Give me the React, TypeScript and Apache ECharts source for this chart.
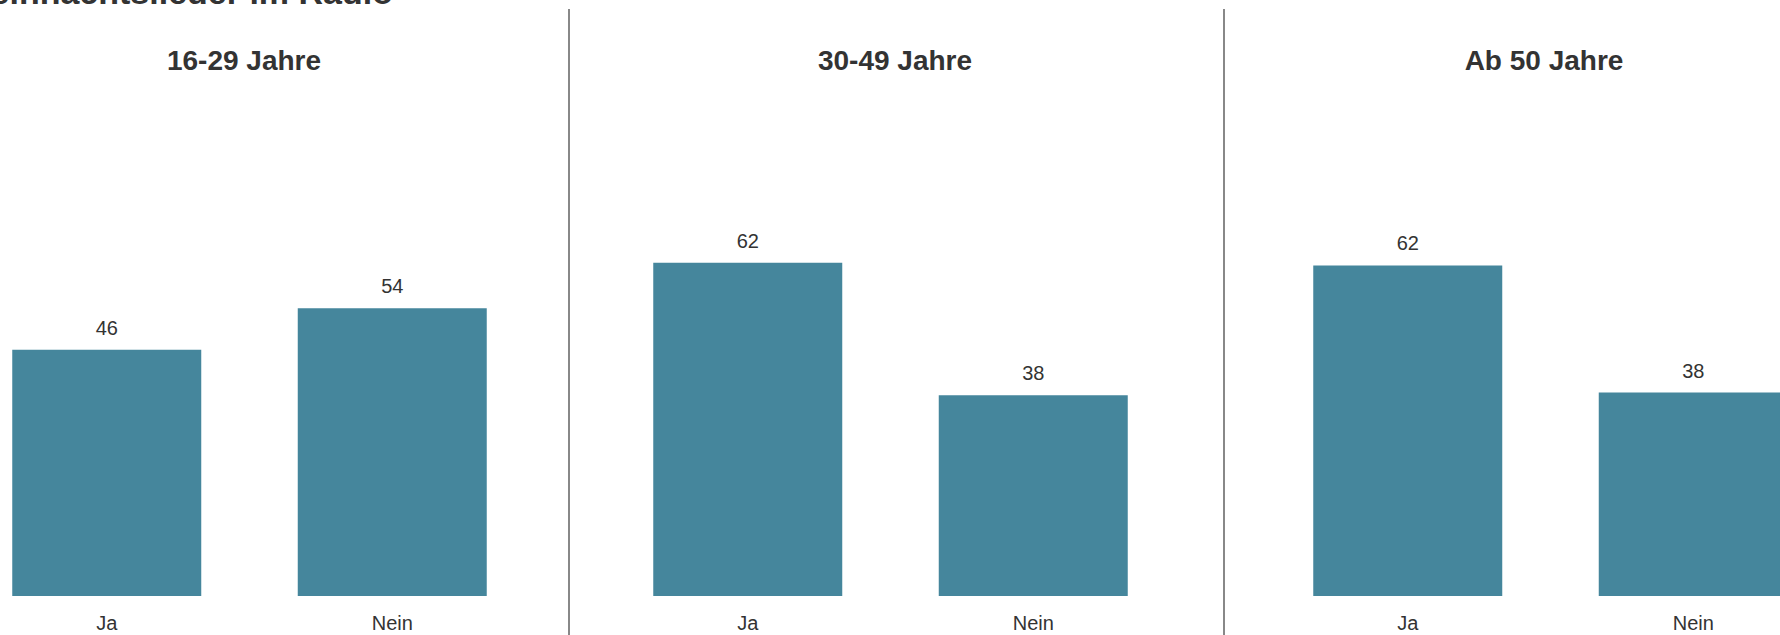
import React, { useEffect, useRef } from "react";
import * as echarts from "echarts";

const mainTitle = "Weihnachtslieder im Radio";
const groups = ["16-29 Jahre", "30-49 Jahre", "Ab 50 Jahre"];
const categories = ["Ja", "Nein"];
const values1629 = [46.1, 53.9];
const values3049 = [62.4, 37.6];
const valuesAb50 = [61.9, 38.1];
const groupValues = [values1629, values3049, valuesAb50];

const BAR = "#45869c";
const TEXT = "#333333";
const FONT = "'Liberation Sans', Arial, sans-serif";

const gridLefts = [-36, 605, 1265];
const gridWidth = 571;
const titleCenters = [244, 895, 1544];
const dividers = [569, 1224];

export default function App() {
  const ref = useRef<HTMLDivElement>(null);
  useEffect(() => {
    if (!ref.current) return;
    const chart = echarts.init(ref.current, null, { renderer: "svg" });
    const grids = gridLefts.map((l) => ({
      left: l,
      width: gridWidth,
      top: 62,
      height: 534,
      containLabel: false,
      outerBoundsMode: "none",
    }));
    const xAxes = groups.map((_, i) => ({
      type: "category",
      gridIndex: i,
      data: categories,
      axisLine: { show: false },
      axisTick: { show: false },
      axisLabel: { color: TEXT, fontSize: 20, fontFamily: FONT, margin: 17 },
    }));
    const yAxes = groups.map((_, i) => ({
      type: "value",
      gridIndex: i,
      min: 0,
      max: 100,
      show: false,
      splitLine: { show: false },
    }));
    const series = groupValues.map((vals, i) => ({
      type: "bar",
      name: groups[i],
      xAxisIndex: i,
      yAxisIndex: i,
      data: vals,
      barWidth: 189,
      itemStyle: { color: BAR },
      label: {
        show: true,
        position: "top",
        distance: 12,
        color: TEXT,
        fontSize: 20,
        fontFamily: FONT,
        formatter: (p: any) => String(Math.round(p.value)),
      },
    }));
    const graphic: any[] = [
      {
        type: "text",
        x: 393,
        y: -8,
        style: {
          text: mainTitle,
          fill: TEXT,
          font: `bold 34px ${FONT}`,
          textAlign: "right",
          textVerticalAlign: "middle",
        },
      },
      ...groups.map((g, i) => ({
        type: "text",
        x: titleCenters[i],
        y: 60,
        style: {
          text: g,
          fill: TEXT,
          font: `bold 28px ${FONT}`,
          textAlign: "center",
          textVerticalAlign: "middle",
        },
      })),
      ...dividers.map((x) => ({
        type: "line",
        shape: { x1: x, y1: 9, x2: x, y2: 635 },
        style: { stroke: "#888888", lineWidth: 2 },
      })),
    ];
    chart.setOption({
      animation: false,
      backgroundColor: "#ffffff",
      grid: grids,
      xAxis: xAxes,
      yAxis: yAxes,
      series,
      graphic,
    });
    return () => chart.dispose();
  }, []);
  return (
    <div
      ref={ref}
      style={{ position: "absolute", left: 0, top: 0, width: 1780, height: 635 }}
    />
  );
}
